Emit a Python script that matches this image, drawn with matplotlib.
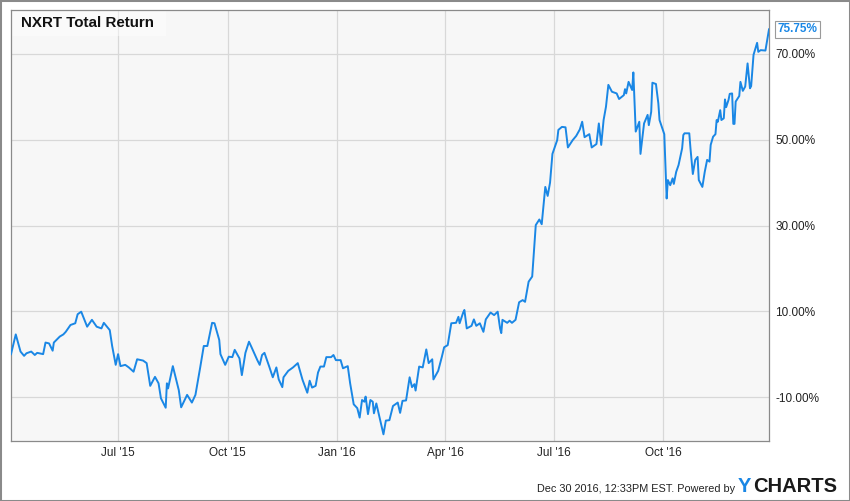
import matplotlib
matplotlib.use("Agg")
import matplotlib.pyplot as plt
import matplotlib.dates as mdates
from matplotlib.patches import Rectangle
from matplotlib.ticker import FuncFormatter
import pandas as pd

plt.rcParams['font.family'] = ['Liberation Sans', 'DejaVu Sans']

# NXRT total return (%)
dates = [
    "2015-04-02", "2015-04-06", "2015-04-10", "2015-04-13", "2015-04-15", "2015-04-19", "2015-04-22", "2015-04-24",
    "2015-04-29", "2015-05-01", "2015-05-04", "2015-05-07", "2015-05-08", "2015-05-13", "2015-05-16", "2015-05-18",
    "2015-05-22", "2015-05-26", "2015-05-28", "2015-05-31", "2015-06-05", "2015-06-09", "2015-06-13", "2015-06-17",
    "2015-06-19", "2015-06-24", "2015-06-26", "2015-06-29", "2015-07-01", "2015-07-03", "2015-07-07", "2015-07-10",
    "2015-07-14", "2015-07-17", "2015-07-22", "2015-07-25", "2015-07-28", "2015-08-01", "2015-08-04", "2015-08-06",
    "2015-08-10", "2015-08-11", "2015-08-12", "2015-08-16", "2015-08-21", "2015-08-23", "2015-08-28", "2015-09-01",
    "2015-09-04", "2015-09-08", "2015-09-11", "2015-09-14", "2015-09-18", "2015-09-20", "2015-09-24", "2015-09-25",
    "2015-09-29", "2015-10-02", "2015-10-05", "2015-10-07", "2015-10-11", "2015-10-13", "2015-10-16", "2015-10-19",
    "2015-10-21", "2015-10-26", "2015-10-28", "2015-10-30", "2015-11-01", "2015-11-05", "2015-11-08", "2015-11-11",
    "2015-11-13", "2015-11-16", "2015-11-17", "2015-11-21", "2015-11-25", "2015-11-29", "2015-12-03", "2015-12-07",
    "2015-12-09", "2015-12-11", "2015-12-14", "2015-12-16", "2015-12-18", "2015-12-21", "2015-12-23", "2015-12-27",
    "2015-12-29", "2015-12-31", "2016-01-04", "2016-01-06", "2016-01-10", "2016-01-12", "2016-01-15", "2016-01-18",
    "2016-01-20", "2016-01-22", "2016-01-24", "2016-01-25", "2016-01-27", "2016-01-29", "2016-01-31", "2016-02-01",
    "2016-02-03", "2016-02-09", "2016-02-11", "2016-02-14", "2016-02-17", "2016-02-21", "2016-02-23", "2016-02-25",
    "2016-02-28", "2016-03-02", "2016-03-04", "2016-03-06", "2016-03-07", "2016-03-10", "2016-03-13", "2016-03-16",
    "2016-03-18", "2016-03-21", "2016-03-22", "2016-03-26", "2016-03-29", "2016-03-31", "2016-04-03", "2016-04-06",
    "2016-04-10", "2016-04-12", "2016-04-13", "2016-04-16", "2016-04-17", "2016-04-19", "2016-04-23", "2016-04-25",
    "2016-04-27", "2016-04-30", "2016-05-03", "2016-05-05", "2016-05-09", "2016-05-12", "2016-05-15", "2016-05-17",
    "2016-05-18", "2016-05-19", "2016-05-23", "2016-05-25", "2016-05-27", "2016-05-30", "2016-06-02", "2016-06-05",
    "2016-06-07", "2016-06-10", "2016-06-13", "2016-06-16", "2016-06-19", "2016-06-21", "2016-06-24", "2016-06-26",
    "2016-06-28", "2016-06-30", "2016-07-04", "2016-07-05", "2016-07-08", "2016-07-11", "2016-07-13", "2016-07-17",
    "2016-07-20", "2016-07-23", "2016-07-25", "2016-07-27", "2016-07-31", "2016-08-02", "2016-08-06", "2016-08-08",
    "2016-08-10", "2016-08-12", "2016-08-14", "2016-08-16", "2016-08-19", "2016-08-23", "2016-08-25", "2016-08-29",
    "2016-08-30", "2016-08-31", "2016-09-02", "2016-09-05", "2016-09-06", "2016-09-08", "2016-09-11", "2016-09-12",
    "2016-09-15", "2016-09-18", "2016-09-19", "2016-09-21", "2016-09-22", "2016-09-25", "2016-09-27", "2016-09-28",
    "2016-10-02", "2016-10-04", "2016-10-05", "2016-10-07", "2016-10-09", "2016-10-10", "2016-10-12", "2016-10-14",
    "2016-10-17", "2016-10-18", "2016-10-19", "2016-10-23", "2016-10-24", "2016-10-26", "2016-10-28", "2016-10-30",
    "2016-10-31", "2016-11-03", "2016-11-05", "2016-11-07", "2016-11-09", "2016-11-10", "2016-11-12", "2016-11-14",
    "2016-11-15", "2016-11-16", "2016-11-18", "2016-11-19", "2016-11-21", "2016-11-22", "2016-11-23", "2016-11-25",
    "2016-11-26", "2016-11-28", "2016-11-29", "2016-11-30", "2016-12-01", "2016-12-04", "2016-12-05", "2016-12-07",
    "2016-12-09", "2016-12-11", "2016-12-13", "2016-12-14", "2016-12-16", "2016-12-19", "2016-12-20", "2016-12-22",
    "2016-12-26", "2016-12-29",
]
total_return = [
    0.0, 4.6, 0.6, -0.4, 0.2, 0.6, -0.2, 0.3, 0.0, 2.7,
    2.5, 0.8, 2.7, 4.1, 4.6, 5.2, 6.8, 7.2, 9.3, 9.9,
    6.4, 8.0, 6.4, 6.0, 7.3, 5.6, 1.9, -2.5, 0.0, -2.8,
    -2.5, -3.1, -4.1, -1.2, -1.5, -2.1, -7.4, -5.3, -6.8, -10.3,
    -12.5, -6.8, -8.0, -2.8, -8.4, -12.4, -9.5, -11.3, -9.5, -3.1,
    1.9, 1.9, 7.3, 7.2, 3.3, 0.0, -2.5, -0.6, -0.7, 1.0,
    -1.0, -4.9, 0.3, 2.9, 1.7, -1.4, -2.5, -0.2, 0.3, -2.9,
    -5.4, -3.1, -5.9, -7.7, -5.4, -3.9, -3.1, -2.1, -6.0, -9.0,
    -6.2, -7.8, -7.4, -4.3, -2.9, -2.9, -0.7, -0.7, -0.2, -1.4,
    -1.4, -3.3, -2.8, -6.8, -11.7, -12.6, -14.8, -10.7, -11.1, -9.9,
    -14.0, -10.7, -11.1, -13.8, -11.5, -18.7, -15.5, -15.4, -12.1, -11.3,
    -13.7, -10.9, -10.8, -5.4, -7.7, -7.0, -8.5, -2.9, -3.1, 1.1,
    -2.1, -1.2, -5.9, -3.9, -0.7, 1.6, 2.1, 7.2, 7.3, 8.7,
    7.2, 9.7, 10.3, 6.0, 6.6, 8.1, 6.6, 7.2, 5.2, 8.1,
    9.7, 9.1, 9.9, 6.0, 4.9, 8.0, 7.3, 7.8, 7.3, 8.0,
    12.1, 12.6, 12.2, 16.9, 18.1, 30.1, 31.4, 30.3, 39.0, 36.9,
    40.0, 46.7, 49.9, 52.3, 53.0, 52.9, 48.2, 49.9, 50.9, 52.4,
    54.2, 50.6, 51.3, 48.2, 49.0, 53.8, 48.8, 54.6, 57.7, 62.8,
    61.2, 60.8, 59.5, 60.4, 61.8, 60.8, 63.5, 61.6, 65.7, 51.9,
    54.2, 46.7, 53.8, 55.8, 53.4, 56.5, 63.3, 63.0, 58.5, 54.6,
    51.3, 36.3, 40.6, 39.4, 41.0, 39.7, 42.5, 44.1, 48.0, 51.1,
    51.5, 51.5, 48.0, 42.0, 45.3, 46.0, 40.6, 39.0, 42.5, 45.3,
    44.9, 48.8, 50.7, 51.3, 54.6, 54.2, 56.9, 54.6, 55.0, 59.4,
    57.6, 59.3, 60.7, 60.8, 53.7, 53.7, 58.9, 60.2, 63.5, 61.4,
    62.4, 67.8, 62.0, 62.5, 69.8, 72.6, 70.5, 70.9, 70.8, 75.75,
]
y_ticks = [-10, 10, 30, 50, 70]

blue = '#1a87e5'
x = pd.to_datetime(dates)

fig = plt.figure(figsize=(8.5, 5.01), dpi=100)
ax = fig.add_axes([11 / 850, 60 / 501, 758 / 850, 431 / 501])
ax.set_facecolor('#f7f7f7')
ax.plot(x, total_return, color=blue, lw=1.4, zorder=3)

ax.set_xlim(pd.Timestamp('2015-04-02'), pd.Timestamp('2016-12-29'))
ax.set_ylim(-20.26, 80.26)

ax.yaxis.tick_right()
ax.set_yticks(y_ticks)
ax.yaxis.set_major_formatter(FuncFormatter(lambda v, p: f'{v:.2f}%'))
ax.xaxis.set_major_locator(mdates.MonthLocator(bymonth=[1, 4, 7, 10]))
ax.xaxis.set_major_formatter(mdates.DateFormatter("%b '%y"))
ax.tick_params(axis='both', length=0, labelsize=8.5, colors='#222222')
ax.tick_params(axis='x', pad=4)
ax.tick_params(axis='y', pad=4.5)
ax.grid(color='#d8d8d8', lw=0.9)
ax.set_axisbelow(True)
for s in ax.spines.values():
    s.set_color('#8a8a8a')
    s.set_linewidth(0.9)

# title box
ax.add_patch(Rectangle((0, 1 - 26 / 431), 155 / 758, 26 / 431, transform=ax.transAxes,
                       facecolor='white', alpha=0.45, edgecolor='none', zorder=2))
ax.text(10 / 758, 1 - 13 / 431, 'NXRT Total Return', transform=ax.transAxes,
        ha='left', va='center', fontsize=10.9, fontweight='bold', color='#111111', zorder=4)

# last value tag
ax.annotate(f'{total_return[-1]:.2f}%', xy=(x[-1], total_return[-1]), xytext=(6, 0),
            textcoords='offset points', ha='left', va='center', fontsize=8.5,
            fontweight='bold', color=blue, annotation_clip=False,
            bbox=dict(boxstyle='square,pad=0.2', fc='white', ec='#9a9a9a', lw=0.8))

# footer
fig.text(735 / 850, 1 - 492 / 501, 'Dec 30 2016, 12:33PM EST. Powered by',
         ha='right', va='baseline', fontsize=7.8, color='#222222')
fig.text(738 / 850, 1 - 491.5 / 501, 'Y', ha='left', va='baseline',
         fontsize=14.5, fontweight='bold', color=blue)
fig.text(753 / 850, 1 - 491.5 / 501, 'CHARTS', ha='left', va='baseline',
         fontsize=14.5, fontweight='bold', color='#1a1a1a')

# outer border
fig.patches.append(Rectangle((0, 0), 1, 1, transform=fig.transFigure, fill=False,
                             edgecolor='#8a8a8a', lw=2.2))

fig.savefig('out.png', dpi=100, facecolor='white')
